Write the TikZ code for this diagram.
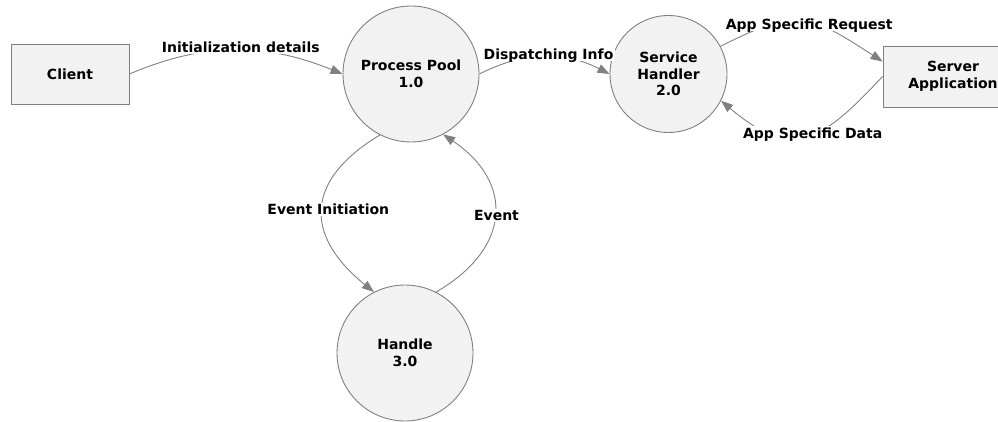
\documentclass[tikz,border=0pt]{standalone}
\usepackage{fontspec}
\setmainfont{DejaVu Sans}
\usetikzlibrary{arrows.meta}
\definecolor{boxfill}{HTML}{F2F2F2}
\definecolor{edge}{HTML}{808080}
\tikzset{
  every node/.style={font=\fontsize{14}{16.5}\selectfont\bfseries, align=center},
  proc/.style={circle, draw=edge, fill=boxfill, line width=0.9pt, minimum size=#1, inner sep=0pt},
  entity/.style={rectangle, draw=edge, fill=boxfill, line width=0.9pt, inner sep=0pt},
  flow/.style={draw=edge, line width=0.9pt, -{Triangle[length=12pt,width=9pt]}},
  lbl/.style={fill=white, inner sep=1.5pt, text depth=0pt}
}
\begin{document}
\begin{tikzpicture}[x=1pt, y=1pt]
\useasboundingbox (0,0) rectangle (998,421);

% external entities
\node[entity, minimum width=118pt, minimum height=60pt] (client) at (70,347) {Client};
\node[entity, minimum width=140pt, minimum height=61pt] (server) at (953,344.5) {Server\\Application};

% processes
\node[proc=136pt] (pool) at (411,347) {Process Pool\\1.0};
\node[proc=117pt] (handler) at (668.5,347) {Service\\Handler\\2.0};
\node[proc=136pt] (handle) at (405,68) {Handle\\3.0};

% data flows
\draw[flow] (client.east) to[out=23, in=158]
  node[lbl, pos=0.5, xshift=5pt, yshift=3pt] {Initialization details} (pool.west);
\draw[flow] (pool.east) to[out=27, in=153]
  node[lbl, pos=0.5, xshift=4pt, yshift=3pt] {Dispatching Info} (handler.west);
\draw[flow] (handler.28) to[out=27, in=147, looseness=1.35]
  node[lbl, pos=0.5, xshift=6pt, yshift=-2pt] {App Specific Request} (server.168);
\draw[flow] (server.west) to[out=227, in=-40, looseness=1.45]
  node[lbl, pos=0.5, xshift=8pt, yshift=3pt] {App Specific Data} (handler.-27);
\draw[flow] (pool.243) to[out=211, in=141, looseness=1.45]
  node[lbl, pos=0.5, xshift=6pt] {Event Initiation} (handle.117);
\draw[flow] (handle.63) to[out=30, in=-34, looseness=1.4]
  node[lbl, pos=0.5, xshift=2pt] {Event} (pool.-62);
\end{tikzpicture}
\end{document}
